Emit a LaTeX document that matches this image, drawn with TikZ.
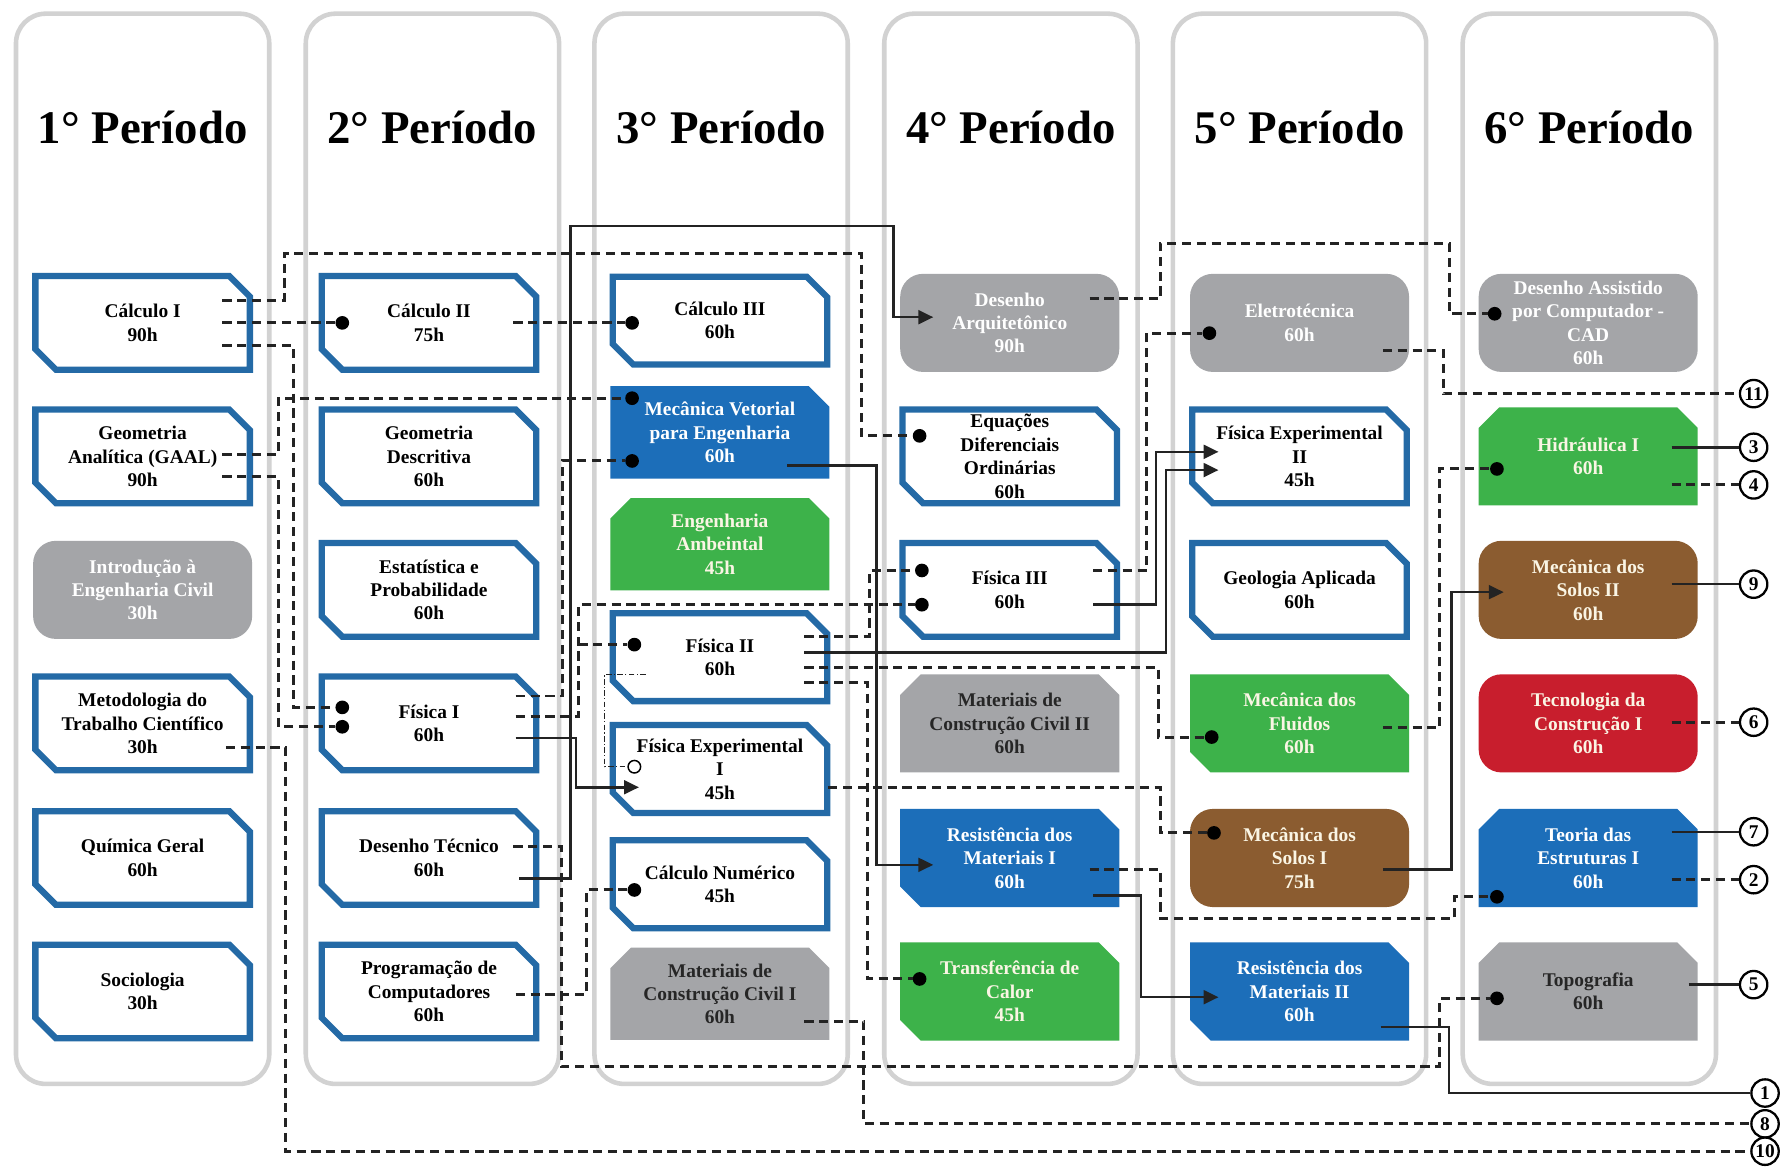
\documentclass[tikz,border=0pt]{standalone}
\usepackage{fontspec}
\setmainfont{Liberation Serif}
\usetikzlibrary{calc,arrows.meta}
\definecolor{cblue}{RGB}{36,106,166}
\definecolor{fblue}{RGB}{28,110,185}
\definecolor{fgreen}{RGB}{61,178,74}
\definecolor{fgray}{RGB}{164,165,168}
\definecolor{fbrown}{RGB}{139,92,48}
\definecolor{fred}{RGB}{200,30,45}
\definecolor{panelc}{RGB}{210,210,210}
\definecolor{lc}{RGB}{35,35,35}
\definecolor{cream}{RGB}{250,245,228}
\tikzset{
 txt/.style={align=center, font=\fontsize{17}{20.5}\selectfont\bfseries, inner sep=0pt, text=black},
 txtob/.style={text=black}, txtbl/.style={text=white}, txtblt/.style={text=white}, txtblT/.style={text=white},
 txtgr/.style={text=cream}, txtgrT/.style={text=cream}, txtgyT/.style={text=black!85},
 txtgyR/.style={text=white}, txtbrR/.style={text=cream}, txtrdR/.style={text=cream},
 dsh/.style={draw=lc, line width=2.6pt, dash pattern=on 8pt off 5pt},
 sol/.style={draw=lc, line width=2.2pt},
 arr/.style={sol, -{Triangle[length=13pt,width=12pt]}},
 dd/.style={draw=lc, line width=1.2pt, dash pattern=on 5pt off 2pt on 1pt off 2pt},
 dotn/.style={circle, fill=black, inner sep=0pt, minimum size=12pt},
 odot/.style={circle, draw=black, fill=white, line width=1.3pt, inner sep=0pt, minimum size=11pt},
 numc/.style={circle, draw=black, line width=2pt, fill=white, inner sep=0pt, minimum size=24pt, font=\fontsize{17}{17}\selectfont\bfseries},
 panel/.style={draw=panelc, line width=4pt, fill=white, rounded corners=26pt},
 ttl/.style={font=\fontsize{41}{41}\selectfont\bfseries},
}
\newcommand\fTRBL[1]{\fill[#1] (\crsL,\crsT) -- (\crsR-\crsC,\crsT) -- (\crsR,\crsT+\crsC) -- (\crsR,\crsB) -- (\crsL+\crsC,\crsB) -- (\crsL,\crsB-\crsC) -- cycle;}
\newcommand\fTR[1]{\fill[#1] (\crsL,\crsT) -- (\crsR-\crsC,\crsT) -- (\crsR,\crsT+\crsC) -- (\crsR,\crsB) -- (\crsL,\crsB) -- cycle;}
\newcommand\fTLTR[1]{\fill[#1] (\crsL+\crsC,\crsT) -- (\crsR-\crsC,\crsT) -- (\crsR,\crsT+\crsC) -- (\crsR,\crsB) -- (\crsL,\crsB) -- (\crsL,\crsT+\crsC) -- cycle;}
\newcommand\fRR[1]{\fill[#1,rounded corners=20pt] (\crsL,\crsT) rectangle (\crsR,\crsB);}
\newcommand\shpob{\draw[line width=5.5pt,draw=cblue,fill=white] (\crsL+2,\crsT+2) -- (\crsR-2-\crsC,\crsT+2) -- (\crsR-2,\crsT+2+\crsC) -- (\crsR-2,\crsB-2) -- (\crsL+2+\crsC,\crsB-2) -- (\crsL+2,\crsB-2-\crsC) -- cycle;}
\newcommand\shpbl{\fTRBL{fblue}}
\newcommand\shpgr{\fTRBL{fgreen}}
\newcommand\shpblt{\fTR{fblue}}
\newcommand\shpblT{\fTLTR{fblue}}
\newcommand\shpgrT{\fTLTR{fgreen}}
\newcommand\shpgyT{\fTLTR{fgray}}
\newcommand\shpgyR{\fRR{fgray}}
\newcommand\shpbrR{\fRR{fbrown}}
\newcommand\shprdR{\fRR{fred}}
\newcommand\course[5]{%
  \pgfmathsetmacro\crsL{#2-\crsW/2}%
  \pgfmathsetmacro\crsR{#2+\crsW/2}%
  \pgfmathsetmacro\crsT{#3-\crsH/2}%
  \pgfmathsetmacro\crsB{#3+\crsH/2}%
  \csname shp#4\endcsname
  \node[txt,txt#4] (#1) at (#2,#3) {#5};%
}
\def\crsW{192}\def\crsH{86}\def\crsC{18}
\begin{document}
\begin{tikzpicture}[x=1pt,y=-1pt]
\useasboundingbox (0,0) rectangle (1568,1022);
\fill[white] (0,0) rectangle (1568,1022);
% panels
\foreach \px/\nm in {14/p1,268/p2,521/p3,775/p4,1028/p5,1282/p6}{
  \draw[panel] (\px,12) rectangle (\px+222,950);
}
\node[ttl] (t1) at (125,112) {1° Período};
\node[ttl] (t2) at (379,112) {2° Período};
\node[ttl] (t3) at (632,112) {3° Período};
\node[ttl] (t4) at (886,112) {4° Período};
\node[ttl] (t5) at (1139,112) {5° Período};
\node[ttl] (t6) at (1393,112) {6° Período};
% column 1
\course{calcI}{125}{283}{ob}{Cálculo I\\90h}
\course{gaal}{125}{400}{ob}{Geometria\\Analítica (GAAL)\\90h}
\course{intro}{125}{517}{gyR}{Introdução à\\Engenharia Civil\\30h}
\course{metod}{125}{634}{ob}{Metodologia do\\Trabalho Científico\\30h}
\course{quim}{125}{752}{ob}{Química Geral\\60h}
\course{socio}{125}{869}{ob}{Sociologia\\30h}
% column 2
\course{calcII}{376}{283}{ob}{Cálculo II\\75h}
\course{geoD}{376}{400}{ob}{Geometria\\Descritiva\\60h}
\course{estat}{376}{517}{ob}{Estatística e\\Probabilidade\\60h}
\course{fisI}{376}{634}{ob}{Física I\\60h}
\course{desT}{376}{752}{ob}{Desenho Técnico\\60h}
\course{prog}{376}{869}{ob}{Programação de\\Computadores\\60h}
% column 3
\def\crsH{81}
\course{calcIII}{631}{281}{ob}{Cálculo III\\60h}
\course{mecV}{631}{379}{blt}{Mecânica Vetorial\\para Engenharia\\60h}
\course{engA}{631}{477}{grT}{Engenharia\\Ambeintal\\45h}
\course{fisII}{631}{576}{ob}{Física II\\60h}
\course{fexI}{631}{674}{ob}{Física Experimental\\I\\45h}
\course{calcN}{631}{775}{ob}{Cálculo Numérico\\45h}
\course{matI}{631}{871}{gyT}{Materiais de\\Construção Civil I\\60h}
\def\crsH{86}
% column 4
\course{desA}{885}{283}{gyR}{Desenho\\Arquitetônico\\90h}
\course{edo}{885}{400}{ob}{Equações\\Diferenciais\\Ordinárias\\60h}
\course{fisIII}{885}{517}{ob}{Física III\\60h}
\course{matII}{885}{634}{gyT}{Materiais de\\Construção Civil II\\60h}
\course{resI}{885}{752}{bl}{Resistência dos\\Materiais I\\60h}
\course{trans}{885}{869}{gr}{Transferência de\\Calor\\45h}
% column 5
\course{elet}{1139}{283}{gyR}{Eletrotécnica\\60h}
\course{fexII}{1139}{400}{ob}{Física Experimental\\II\\45h}
\course{geol}{1139}{517}{ob}{Geologia Aplicada\\60h}
\course{mflu}{1139}{634}{gr}{Mecânica dos\\Fluidos\\60h}
\course{msI}{1139}{752}{brR}{Mecânica dos\\Solos I\\75h}
\course{resII}{1139}{869}{bl}{Resistência dos\\Materiais II\\60h}
% column 6
\course{cad}{1392}{283}{gyR}{Desenho Assistido\\por Computador -\\CAD\\60h}
\course{hid}{1392}{400}{grT}{Hidráulica I\\60h}
\course{msII}{1392}{517}{brR}{Mecânica dos\\Solos II\\60h}
\course{tec}{1392}{634}{rdR}{Tecnologia da\\Construção I\\60h}
\course{teo}{1392}{752}{blT}{Teoria das\\Estruturas I\\60h}
\course{topo}{1392}{869}{gyT}{Topografia\\60h}
% end markers
\node[numc] (n11) at (1537,345) {11};
\node[numc] (n3) at (1537,392) {3};
\node[numc] (n4) at (1537,425) {4};
\node[numc] (n9) at (1537,512) {9};
\node[numc] (n6) at (1537,633) {6};
\node[numc] (n7) at (1537,729) {7};
\node[numc] (n2) at (1537,771) {2};
\node[numc] (n5) at (1537,863) {5};
\node[numc] (n1) at (1547,958) {1};
\node[numc] (n8) at (1547,985) {8};
\node[numc] (n10) at (1547,1009) {10};
% dots
\node[dotn] (calcIIA) at ($(calcII)+(-76,0)$) {};
\node[dotn] (calcIIIA) at ($(calcIII)+(-77,2)$) {};
\node[dotn] (edoA) at ($(edo)+(-79,-18)$) {};
\node[dotn] (fisIA) at ($(fisI)+(-76,-14)$) {};
\node[dotn] (fisIB) at ($(fisI)+(-76,3)$) {};
\node[dotn] (mecVA) at ($(mecV)+(-77,-30)$) {};
\node[dotn] (mecVB) at ($(mecV)+(-77,25)$) {};
\node[dotn] (fisIIA) at ($(fisII)+(-75,-11)$) {};
\node[odot] (fexIo) at ($(fexI)+(-75,-2)$) {};
\node[dotn] (calcNA) at ($(calcN)+(-75,5)$) {};
\node[dotn] (fisIIIA) at ($(fisIII)+(-77,-17)$) {};
\node[dotn] (fisIIIB) at ($(fisIII)+(-77,13)$) {};
\node[dotn] (transA) at ($(trans)+(-79,-11)$) {};
\node[dotn] (eletA) at ($(elet)+(-79,9)$) {};
\node[dotn] (mfluA) at ($(mflu)+(-77,12)$) {};
\node[dotn] (msIA) at ($(msI)+(-75,-22)$) {};
\node[dotn] (cadA) at ($(cad)+(-82,-8)$) {};
\node[dotn] (hidA) at ($(hid)+(-80,11)$) {};
\node[dotn] (teoA) at ($(teo)+(-80,34)$) {};
\node[dotn] (topoA) at ($(topo)+(-80,6)$) {};
% connectors
\draw[dsh] ($(calcI)+(70,-20)$) -| (249,222) -| (755,382) -- (edoA);
\draw[dsh] ($(calcI)+(70,0)$) -- (calcIIA);
\draw[dsh] ($(calcI)+(70,20)$) -| (257,620) -- (fisIA);
\draw[dsh] ($(gaal)+(70,-2)$) -| (244,349) -- (mecVA);
\draw[dsh] ($(gaal)+(70,18)$) -| (244,637) -- (fisIB);
\draw[dsh] ($(metod)+(73,21)$) -| (250,1009) -- (n10);
\draw[dsh] ($(calcII)+(74,0)$) -- (calcIIIA);
\draw[dsh] ($(fisI)+(76,-24)$) -| (493,404) -- (mecVB);
\draw[dsh] ($(fisI)+(76,-6)$) -| (507,530) -- (fisIIIB);
\coordinate (jA) at (507,565);
\draw[dsh] (jA) -- (fisIIA);
\draw[arr] ($(fisI)+(76,13)$) -| (505,690) -- ($(fexI)+(-71,16)$);
\draw[dsh] ($(desT)+(74,-10)$) -| (492,935) -| (1262,875) -- (topoA);
\draw[arr] ($(desT)+(79,18)$) -| (500,198) -| (783,278) -- ($(desA)+(-67,-5)$);
\draw[dsh] ($(prog)+(76,3)$) -| (514,780) -- (calcNA);
\draw[arr] ($(mecV)+(59,29)$) -| (768,758) -- ($(resI)+(-67,6)$);
\draw[dsh] ($(fisII)+(74,-18)$) -| (762,500) -- (fisIIIA);
\draw[arr] ($(fisII)+(74,-4)$) -| (1022,412) -- ($(fexII)+(-71,12)$);
\draw[dsh] ($(fisII)+(74,9)$) -| (1015,646) -- (mfluA);
\draw[dsh] ($(fisII)+(74,22)$) -| (760,858) -- (transA);
\draw[dd] ($(fisII)+(-65,15)$) -| (530,672) -- (fexIo);
\draw[dsh] ($(fexI)+(95,16)$) -| (1017,730) -- (msIA);
\draw[dsh] ($(matI)+(74,24)$) -| (757,985) -- (n8);
\draw[dsh] ($(desA)+(70,-21)$) -| (1017,213) -| (1270,275) -- (cadA);
\draw[dsh] ($(fisIII)+(73,-17)$) -| (1005,292) -- (eletA);
\draw[arr] ($(fisIII)+(73,13)$) -| (1013,396) -- ($(fexII)+(-71,-4)$);
\draw[dsh] ($(resI)+(70,10)$) -| (1017,805) -| (1275,786) -- (teoA);
\draw[arr] ($(resI)+(73,33)$) -| (1000,874) -- ($(resII)+(-71,5)$);
\draw[dsh] ($(elet)+(73,24)$) -| (1265,345) -- (n11);
\draw[dsh] ($(mflu)+(73,4)$) -| (1262,411) -- (hidA);
\draw[arr] ($(msI)+(73,10)$) -| (1272,519) -- ($(msII)+(-74,2)$);
\draw[sol] ($(resII)+(71,31)$) -| (1270,958) -- (n1);
\draw[sol] ($(hid)+(73,-8)$) -- (n3);
\draw[dsh] ($(hid)+(73,25)$) -- (n4);
\draw[sol] ($(msII)+(73,-5)$) -- (n9);
\draw[dsh] ($(tec)+(73,-1)$) -- (n6);
\draw[sol] ($(teo)+(73,-23)$) -- (n7);
\draw[dsh] ($(teo)+(73,19)$) -- (n2);
\draw[sol] ($(topo)+(88,-6)$) -- (n5);
\end{tikzpicture}
\end{document}
